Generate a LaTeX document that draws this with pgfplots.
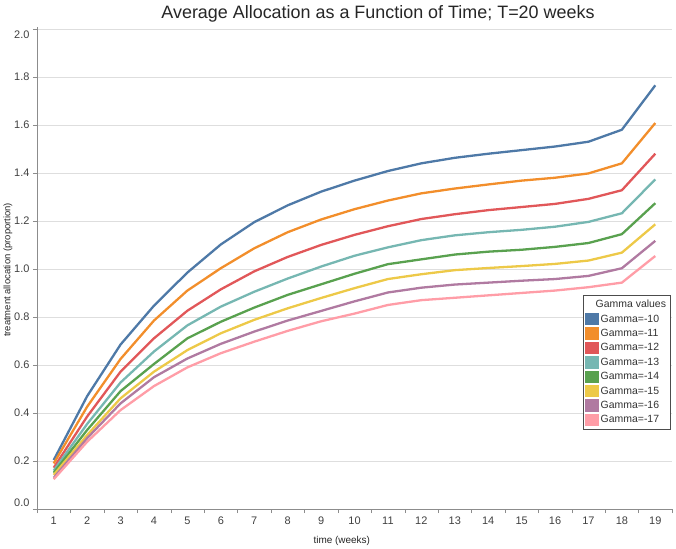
\documentclass[border=0pt]{standalone}
\usepackage{fontspec}
\setmainfont{Liberation Sans}
\usepackage{pgfplots}
\pgfplotsset{compat=1.18}
\definecolor{cBlue}{HTML}{4E79A7}
\definecolor{cOrange}{HTML}{F28E2B}
\definecolor{cRed}{HTML}{E15759}
\definecolor{cTeal}{HTML}{76B7B2}
\definecolor{cGreen}{HTML}{59A14F}
\definecolor{cYellow}{HTML}{EDC948}
\definecolor{cPurple}{HTML}{B07AA1}
\definecolor{cPink}{HTML}{FF9DA7}
\begin{document}
\begin{tikzpicture}
\begin{axis}[
  scale only axis, width=635bp, height=482bp,
  xmin=0.5, xmax=19.5, ymin=0, ymax=2.008,
  axis x line*=bottom, axis y line*=left,
  axis line style={draw=black!45},
  xtick={1,...,19},
  minor xtick={0.5,1.5,...,19.5},
  major x tick style={draw=none},
  minor tick length=4bp, major tick length=4bp,
  tick align=outside,
  tick style={draw=black!45},
  ytick={0,0.2,0.4,0.6,0.8,1.0,1.2,1.4,1.6,1.8,2.0},
  yticklabels={\raisebox{6bp}[\height][\depth]{0.0},0.2,0.4,0.6,0.8,1.0,1.2,1.4,1.6,1.8,\raisebox{-6bp}[\height][\depth]{2.0}},
  /pgf/number format/assume math mode=true,
  ymajorgrids, major grid style={draw=black!13},
  tick label style={font=\fontsize{11}{13}\selectfont, text=black!75},
  title={Average Allocation as a Function of Time; T=20 weeks},
  title style={at={(0.537,1.0045)}, anchor=base, font=\fontsize{18}{21}\selectfont, text=black!85},
  xlabel={time (weeks)},
  xlabel style={at={(0.48,-0.066)}, anchor=center, font=\fontsize{10}{12}\selectfont, text=black!85},
  ylabel={treatment allocation (proportion)},
  ylabel style={at={(-0.0457,0.496)}, anchor=center, font=\fontsize{9.5}{11}\selectfont, text=black!85},
  legend style={at={(0.998,0.443)}, anchor=north east, draw=black!70, fill=white,
    font=\fontsize{10.5}{12.5}\selectfont, text=black!80, row sep=1.6bp, inner sep=2.5bp},
  legend cell align=left,
  legend image code/.code={\fill[#1] (0bp,-5bp) rectangle (11bp,5bp);},
  every axis plot/.append style={line width=2.3bp},
]
\addlegendimage{empty legend}
\addlegendentry{\hspace*{-5bp}Gamma values}
\addplot[cBlue] coordinates {(1,0.204)(2,0.470)(3,0.685)(4,0.847)(5,0.985)(6,1.102)(7,1.195)(8,1.265)(9,1.322)(10,1.368)(11,1.408)(12,1.440)(13,1.463)(14,1.480)(15,1.495)(16,1.510)(17,1.530)(18,1.580)(19,1.765)};
\addlegendentry{Gamma=-10}
\addplot[cOrange] coordinates {(1,0.190)(2,0.426)(3,0.625)(4,0.785)(5,0.910)(6,1.003)(7,1.086)(8,1.153)(9,1.206)(10,1.249)(11,1.285)(12,1.315)(13,1.335)(14,1.352)(15,1.368)(16,1.380)(17,1.398)(18,1.440)(19,1.608)};
\addlegendentry{Gamma=-11}
\addplot[cRed] coordinates {(1,0.172)(2,0.385)(3,0.572)(4,0.711)(5,0.826)(6,0.915)(7,0.990)(8,1.050)(9,1.100)(10,1.142)(11,1.178)(12,1.208)(13,1.228)(14,1.245)(15,1.258)(16,1.271)(17,1.292)(18,1.328)(19,1.480)};
\addlegendentry{Gamma=-12}
\addplot[cTeal] coordinates {(1,0.160)(2,0.354)(3,0.527)(4,0.656)(5,0.765)(6,0.843)(7,0.905)(8,0.960)(9,1.010)(10,1.055)(11,1.090)(12,1.120)(13,1.140)(14,1.153)(15,1.163)(16,1.176)(17,1.196)(18,1.232)(19,1.373)};
\addlegendentry{Gamma=-13}
\addplot[cGreen] coordinates {(1,0.151)(2,0.329)(3,0.491)(4,0.604)(5,0.711)(6,0.780)(7,0.839)(8,0.892)(9,0.936)(10,0.980)(11,1.020)(12,1.040)(13,1.060)(14,1.072)(15,1.080)(16,1.092)(17,1.108)(18,1.145)(19,1.274)};
\addlegendentry{Gamma=-14}
\addplot[cYellow] coordinates {(1,0.142)(2,0.308)(3,0.461)(4,0.572)(5,0.662)(6,0.732)(7,0.788)(8,0.836)(9,0.879)(10,0.920)(11,0.958)(12,0.978)(13,0.995)(14,1.004)(15,1.012)(16,1.021)(17,1.035)(18,1.068)(19,1.186)};
\addlegendentry{Gamma=-15}
\addplot[cPurple] coordinates {(1,0.130)(2,0.295)(3,0.440)(4,0.549)(5,0.627)(6,0.688)(7,0.739)(8,0.785)(9,0.825)(10,0.865)(11,0.902)(12,0.922)(13,0.935)(14,0.943)(15,0.951)(16,0.958)(17,0.971)(18,1.003)(19,1.117)};
\addlegendentry{Gamma=-16}
\addplot[cPink] coordinates {(1,0.124)(2,0.280)(3,0.412)(4,0.512)(5,0.590)(6,0.649)(7,0.697)(8,0.742)(9,0.782)(10,0.814)(11,0.850)(12,0.870)(13,0.880)(14,0.890)(15,0.900)(16,0.910)(17,0.924)(18,0.943)(19,1.054)};
\addlegendentry{Gamma=-17}
\end{axis}
\pgfresetboundingbox
\path[use as bounding box] (-37bp,-40bp) rectangle (639bp,509bp);
\end{tikzpicture}
\end{document}
